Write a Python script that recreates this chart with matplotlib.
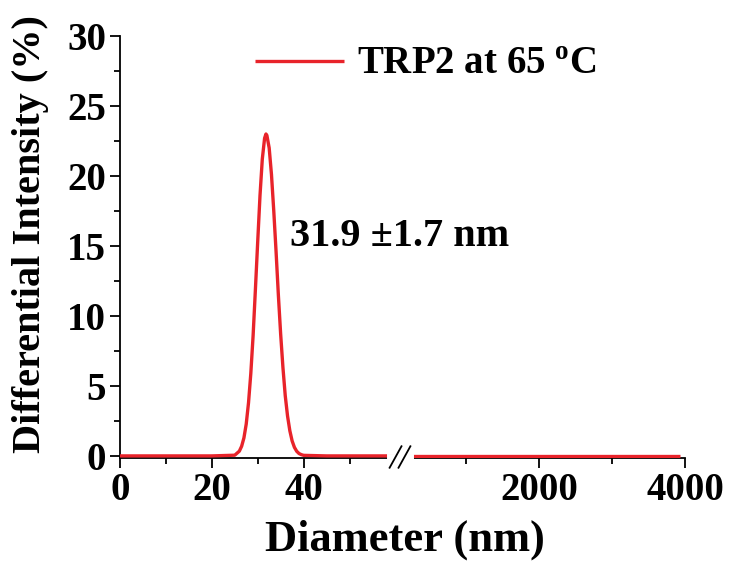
import matplotlib
matplotlib.use("Agg")
import matplotlib.pyplot as plt

# DLS size distribution, TRP2 at 65 C
diam_low = [0, 10, 20, 25, 26, 26.5, 27, 27.5, 28, 28.5, 29, 29.5, 30, 30.5,
            31, 31.5, 31.8, 32, 32.5, 33, 33.5, 34, 34.5, 35, 35.5, 36, 36.5,
            37, 37.5, 38, 38.5, 39, 39.5, 40, 45, 50, 55, 60]
inten_low = [0, 0, 0, 0.05, 0.34, 0.69, 1.29, 2.28, 3.8, 5.9, 8.6, 11.9, 15.3,
             18.6, 21.2, 22.7, 23.0, 22.9, 22.0, 20.1, 17.5, 14.6, 11.5, 8.7,
             6.3, 4.3, 2.85, 1.8, 1.07, 0.61, 0.33, 0.17, 0.09, 0.04, 0, 0, 0, 0]
diam_high = [130, 500, 1000, 2000, 3000, 3930]
inten_high = [0, 0, 0, 0, 0, 0]

label = r"TRP2 at 65 $^{\mathbf{o}}$C"
note = "31.9 \u00b11.7 nm"

plt.rcParams["font.family"] = ["Liberation Serif", "DejaVu Serif"]
plt.rcParams["font.weight"] = "bold"
plt.rcParams["mathtext.fontset"] = "custom"
plt.rcParams["mathtext.bf"] = "Liberation Serif:bold"
plt.rcParams["mathtext.rm"] = "Liberation Serif:bold"

red = "#e8232a"
W, H = 742, 565
fig = plt.figure(figsize=(W / 100, H / 100), dpi=100)

left, mid, right = 120, 400, 685
top, bottom = 36, 458
ax1 = fig.add_axes([left / W, 1 - bottom / H, (mid - left) / W, (bottom - top) / H])
ax2 = fig.add_axes([mid / W, 1 - bottom / H, (right - mid) / W, (bottom - top) / H])

line, = ax1.plot(diam_low, inten_low, color=red, lw=2.4, solid_capstyle="butt", zorder=3)
ax2.plot(diam_high, inten_high, color=red, lw=2.4, solid_capstyle="butt", zorder=3)

ax1.set_xlim(0, 61)
ax2.set_xlim(100, 4000)
for ax in (ax1, ax2):
    ax.set_ylim(-0.15, 30)
    ax.spines["top"].set_visible(False)
    ax.spines["right"].set_visible(False)
    ax.spines["bottom"].set_linewidth(1.3)
    ax.spines["left"].set_linewidth(1.3)
    ax.tick_params(which="major", direction="out", length=7, width=1.3, labelsize=28, pad=3)
    ax.tick_params(which="minor", direction="out", length=4, width=1.3)
    ax.patch.set_alpha(0)

ax1.set_xticks([0, 20, 40])
ax1.set_xticks([10, 30, 50], minor=True)
ax1.set_yticks([0, 5, 10, 15, 20, 25, 30])
ax1.set_yticks([2.5, 7.5, 12.5, 17.5, 22.5, 27.5], minor=True)
ax2.set_xticks([2000, 4000])
ax2.set_xticks([1000, 3000], minor=True)
ax2.spines["left"].set_visible(False)
ax2.tick_params(axis="y", which="both", left=False, labelleft=False)

for ax in (ax1, ax2):
    for t in ax.get_xticklabels() + ax.get_yticklabels():
        t.set_fontweight("bold")

# break marks on the x axis
bx = mid / W
by = 1 - (bottom - 1) / H
fig.add_artist(plt.Line2D([bx - 0.013, bx + 0.013], [by, by], color="white", lw=5,
                          transform=fig.transFigure))
for dx in (-0.006, 0.006):
    fig.add_artist(plt.Line2D([bx + dx - 0.008, bx + dx + 0.008], [by - 0.019, by + 0.019],
                              color="black", lw=1.3, transform=fig.transFigure))

ax1.set_ylabel("Differential Intensity (%)", fontsize=29, fontweight="bold")
ax1.yaxis.set_label_coords(-0.255, 0.53)
fig.text(405 / W, 1 - 551 / H, "Diameter (nm)", fontsize=32,
         fontweight="bold", ha="center", va="baseline")

fig.legend([line], [label], loc="center left", bbox_to_anchor=(255 / W, 1 - 65 / H),
           frameon=False, fontsize=28, handlelength=2.3, handletextpad=0.33,
           borderaxespad=0, borderpad=0)
fig.text(290 / W, 1 - 237 / H, note, fontsize=29, fontweight="bold", va="center")

fig.savefig("out.png", dpi=100)
